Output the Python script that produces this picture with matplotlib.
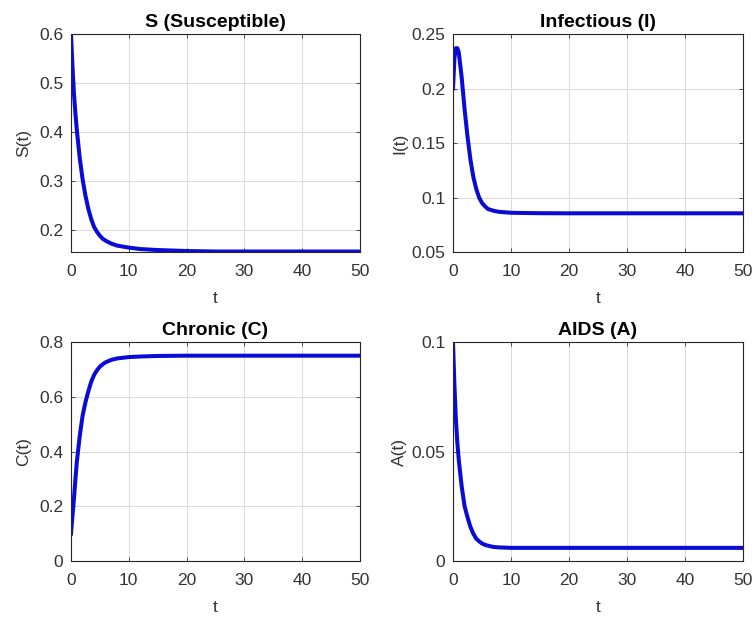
import matplotlib
matplotlib.use("Agg")
import matplotlib.pyplot as plt

plt.rcParams['font.family'] = ['Liberation Sans', 'DejaVu Sans']

# time points
t = [0, 0.25, 0.5, 0.75, 1, 1.5, 2, 2.5, 3, 3.5, 4, 4.5, 5, 5.5, 6, 7, 8, 10, 12, 15, 20, 25, 30, 40, 50]

S = [0.600, 0.535, 0.480, 0.440, 0.405, 0.348, 0.304, 0.270, 0.243, 0.222, 0.206, 0.196, 0.188,
     0.182, 0.178, 0.172, 0.168, 0.164, 0.161, 0.159, 0.157, 0.156, 0.156, 0.156, 0.156]
I = [0.200, 0.228, 0.237, 0.237, 0.233, 0.210, 0.181, 0.156, 0.135, 0.119, 0.108, 0.100, 0.095,
     0.092, 0.0895, 0.0878, 0.0868, 0.0860, 0.0858, 0.0856, 0.0855, 0.0855, 0.0855, 0.0855, 0.0855]
C = [0.100, 0.165, 0.225, 0.295, 0.360, 0.455, 0.530, 0.580, 0.620, 0.655, 0.680, 0.697, 0.710,
     0.719, 0.726, 0.735, 0.740, 0.745, 0.747, 0.749, 0.750, 0.750, 0.750, 0.750, 0.750]
A = [0.100, 0.080, 0.0645, 0.054, 0.046, 0.034, 0.025, 0.020, 0.0156, 0.0125, 0.0102, 0.0090, 0.0080,
     0.0074, 0.0070, 0.0064, 0.0062, 0.0060, 0.0060, 0.0060, 0.0060, 0.0060, 0.0060, 0.0060, 0.0060]

titles = ['S (Susceptible)', 'Infectious (I)', 'Chronic (C)', 'AIDS (A)']
ylabels = ['S(t)', 'I(t)', 'C(t)', 'A(t)']
series = [S, I, C, A]
ylims = [(0.155, 0.6), (0.05, 0.25), (0, 0.8), (0, 0.1)]
yticks = [[0.2, 0.3, 0.4, 0.5, 0.6],
          [0.05, 0.1, 0.15, 0.2, 0.25],
          [0, 0.2, 0.4, 0.6, 0.8],
          [0, 0.05, 0.1]]
ytlabels = [['0.2', '0.3', '0.4', '0.5', '0.6'],
            ['0.05', '0.1', '0.15', '0.2', '0.25'],
            ['0', '0.2', '0.4', '0.6', '0.8'],
            ['0', '0.05', '0.1']]
xticks = [0, 10, 20, 30, 40, 50]

W, H = 756, 618
fig = plt.figure(figsize=(W / 100, H / 100), dpi=100)
rects = [
    (71, 34, 360, 252),
    (453, 34, 743, 252),
    (71, 342, 360, 561),
    (453, 342, 743, 561),
]
ylpads = [5.5, 3, 5.5, 3]
txtc = '#333333'
for k in range(4):
    x0, y0, x1, y1 = rects[k]
    ax = fig.add_axes([x0 / W, 1 - y1 / H, (x1 - x0) / W, (y1 - y0) / H])
    ax.plot(t, series[k], color='#0b0bd6', lw=2.9, solid_joinstyle='round')
    ax.set_xlim(0, 50)
    ax.set_ylim(*ylims[k])
    ax.set_xticks(xticks)
    ax.set_xticklabels([str(v) for v in xticks])
    ax.set_yticks(yticks[k])
    ax.set_yticklabels(ytlabels[k])
    ax.grid(True, color='#dcdcdc', lw=0.8)
    ax.set_axisbelow(True)
    ax.tick_params(direction='in', length=3, width=0.6, top=True, right=True,
                   labelsize=12.5, colors=txtc)
    ax.tick_params(axis='x', pad=8.5)
    ax.tick_params(axis='y', pad=5.5)
    for sp in ax.spines.values():
        sp.set_color('#262626')
        sp.set_linewidth(0.8)
    ax.set_title(titles[k], fontsize=14, fontweight='bold', color='black', pad=5)
    ax.set_xlabel('t', fontsize=12.5, color=txtc, labelpad=9)
    ax.set_ylabel(ylabels[k], fontsize=12.5, color=txtc, labelpad=ylpads[k])

fig.savefig('out.png', dpi=100, facecolor='white')
